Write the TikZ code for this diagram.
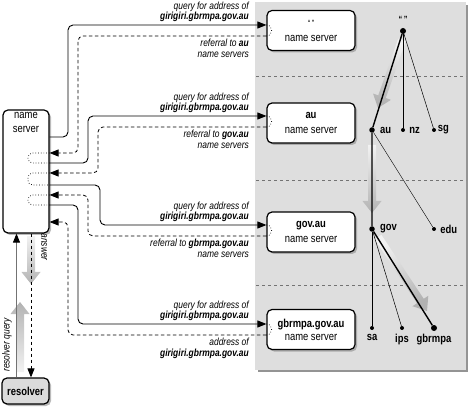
\documentclass[tikz,border=0pt]{standalone}
\usepackage{fontspec}
\setmainfont{Liberation Sans}[FakeStretch=0.82]
\usetikzlibrary{arrows.meta, calc, positioning, shadows}
\tikzstyle{block} = [draw, rectangle, line width=1.2pt, rounded corners=5pt, fill=white, minimum width=88pt, minimum height=40pt, align=center, inner sep=0pt, font=\fontsize{11.5}{13}\selectfont, drop shadow={shadow xshift=2pt, shadow yshift=-2pt, fill=black!45, opacity=0.6}]
\tikzstyle{nsbox} = [block, minimum width=46pt, minimum height=123pt]
\tikzstyle{resbox} = [block, minimum width=47pt, minimum height=26pt, fill=black!14, font=\fontsize{11.5}{13}\selectfont\bfseries]
\tikzstyle{qlabel} = [align=right, inner sep=0pt, font=\fontsize{10.3}{10.5}\selectfont\itshape]
\tikzstyle{tlabel} = [inner sep=0pt, font=\fontsize{11.5}{13}\selectfont\bfseries]
\tikzstyle{dot} = [circle, fill=black, inner sep=0pt, minimum size=4pt]
\tikzstyle{wire} = [-{Triangle[length=9pt,width=7pt]}, line width=0.9pt, rounded corners=5pt]
\tikzstyle{reply} = [wire, dash pattern=on 3.5pt off 2.5pt, line width=0.8pt]
\tikzstyle{loopline} = [dotted, line width=0.7pt, rounded corners=4.5pt]
\tikzstyle{separator} = [black!55, line width=0.9pt, dash pattern=on 3pt off 3pt]

% wide grey arrow: tail, head, shading angle
\newcommand{\fatarrow}[3]{%
  \coordinate (fa-n) at ($(#2)!12pt!(#1)$);
  \shade[top color=black!30, bottom color=black!5, shading angle=#3]
    ($(#1)!4pt!90:(#2)$) -- ($(fa-n)!4pt!90:(#2)$) -- ($(fa-n)!9.5pt!90:(#2)$) -- (#2)
    -- ($(fa-n)!9.5pt!-90:(#2)$) -- ($(fa-n)!4pt!-90:(#2)$) -- ($(#1)!4pt!-90:(#2)$) -- cycle;}

\begin{document}
\begin{tikzpicture}[x=1pt, y=-1pt]
  \useasboundingbox (0,0) rectangle (468,411);

  % the domain name space
  \fill[black!42] (258,5) rectangle (468,372);
  \fill[black!13] (255,2) rectangle (466,370);
  \foreach \ys in {76,180,285}
    \draw[separator] (256,\ys) -- (466,\ys);

  \node[block] (root ns) at (311,30.5) {{\small “\,”}\\[2pt]name server};
  \node[block] (au ns) at (311,123) {\textbf{au}\\[2pt]name server};
  \node[block] (gov ns) at (311,232) {\textbf{gov.au}\\[2pt]name server};
  \node[block] (gbrmpa ns) at (311,329.5) {\textbf{gbrmpa.gov.au}\\[0pt]name server};

  \node[nsbox] (ns) at (26,171.5) {};
  \node[align=center, inner sep=0pt, font=\fontsize{11.5}{14}\selectfont, below=3pt of ns.north] (ns text) {name\\server};
  \node[resbox] (res) at (25.5,391) {resolver};

  % tree
  \fatarrow{402,40}{378,108}{-199.4}
  \fatarrow{372,145}{372,213}{-180}
  \fatarrow{378,237}{427,311}{-146.3}

  \node[dot, minimum size=6pt, label={[tlabel, label distance=5pt]above:{\small “\,”}}] (root) at (403,31) {};
  \node[dot, minimum size=5.5pt, label={[tlabel, label distance=5pt]right:au}] (au) at (372,130) {};
  \node[dot, label={[tlabel, label distance=4pt]right:nz}] (nz) at (403,130) {};
  \node[dot, label={[tlabel, label distance=1.5pt]right:sg}] (sg) at (434,130) {};
  \node[dot, minimum size=5.5pt, label={[tlabel, label distance=5pt]right:gov}] (gov) at (372,229) {};
  \node[dot, label={[tlabel, label distance=4pt]right:edu}] (edu) at (434,229) {};
  \node[dot, label={[tlabel, label distance=4pt]below:sa}] (sa) at (372,328) {};
  \node[dot, label={[tlabel, label distance=4pt]below:ips}] (ips) at (402,328) {};
  \node[dot, minimum size=6pt, label={[tlabel, label distance=3pt]below:gbrmpa}] (gbrmpa) at (434,328) {};

  \draw[line width=1.4pt] (root) -- (au) -- (gov) -- (gbrmpa);
  \draw[line width=0.8pt] (root) -- (nz);
  \draw[line width=0.5pt] (root) -- (sg);
  \draw[line width=0.4pt] (au) -- (edu);
  \draw[line width=0.7pt] (gov) -- (sa);
  \draw[line width=0.5pt] (gov) -- (ips);

  % queries and referrals
  \draw[wire] (ns.east |- 0,137) -| (68,25) -- (root ns.west |- 0,25);
  \draw[reply] (root ns.west |- 0,36) -| (78,153) -- (ns.east |- 0,153);
  \draw[wire] (ns.east |- 0,163) -| (88,116) -- (au ns.west |- 0,116);
  \draw[reply] (au ns.west |- 0,127) -| (98,173) -- (ns.east |- 0,173);
  \draw[wire] (ns.east |- 0,185) -| (100,225) -- (gov ns.west |- 0,225);
  \draw[reply] (gov ns.west |- 0,236) -| (88,195) -- (ns.east |- 0,195);
  \draw[wire] (ns.east |- 0,205) -| (78,324) -- (gbrmpa ns.west |- 0,324);
  \draw[reply] (gbrmpa ns.west |- 0,335) -| (68,222) -- (ns.east |- 0,222);

  \draw[loopline] (ns.east |- 0,153) -- (28,153) -- (28,163) -- (ns.east |- 0,163);
  \draw[loopline] (ns.east |- 0,173) -- (28,173) -- (28,185) -- (ns.east |- 0,185);
  \draw[loopline] (ns.east |- 0,195) -- (28,195) -- (28,205) -- (ns.east |- 0,205);
  \foreach \bx/\ya/\yb in {root ns/25/36, au ns/116/127, gov ns/225/236, gbrmpa ns/324/335}
    \draw[loopline] (\bx.west |- 0,\ya) .. controls +(7,0) and +(7,0) .. (\bx.west |- 0,\yb);

  \node[qlabel, anchor=south east] (lq1) at (249,22) {query for address of\\\textbf{girigiri.gbrmpa.gov.au}};
  \node[qlabel, anchor=north east] (lr1) at (249,39) {referral to \textbf{au}\\name servers};
  \node[qlabel, anchor=south east] (lq2) at (249,113) {query for address of\\\textbf{girigiri.gbrmpa.gov.au}};
  \node[qlabel, anchor=north east] (lr2) at (249,130) {referral to \textbf{gov.au}\\name servers};
  \node[qlabel, anchor=south east] (lq3) at (249,222) {query for address of\\\textbf{girigiri.gbrmpa.gov.au}};
  \node[qlabel, anchor=north east] (lr3) at (249,239) {referral to \textbf{gbrmpa.gov.au}\\name servers};
  \node[qlabel, anchor=south east] (lq4) at (249,321) {query for address of\\\textbf{girigiri.gbrmpa.gov.au}};
  \node[qlabel, anchor=north east] (la4) at (249,338) {address of\\\textbf{girigiri.gbrmpa.gov.au}};

  % resolver and name server
  \fatarrow{31,236}{31,284}{-180}
  \fatarrow{20,372}{20,302}{0}
  \draw[black!55, line width=0.9pt, -{Triangle[length=9pt,width=7pt,black]}] (res.north -| 16.5,0) -- (ns.south -| 16.5,0);
  \draw[reply] (ns.south -| 31,0) -- (res.north -| 31,0);
  \node[qlabel, rotate=-90] (answer) at (44,247) {answer};
  \node[qlabel, rotate=90] (rq) at (7,345) {resolver query};
\end{tikzpicture}
\end{document}
